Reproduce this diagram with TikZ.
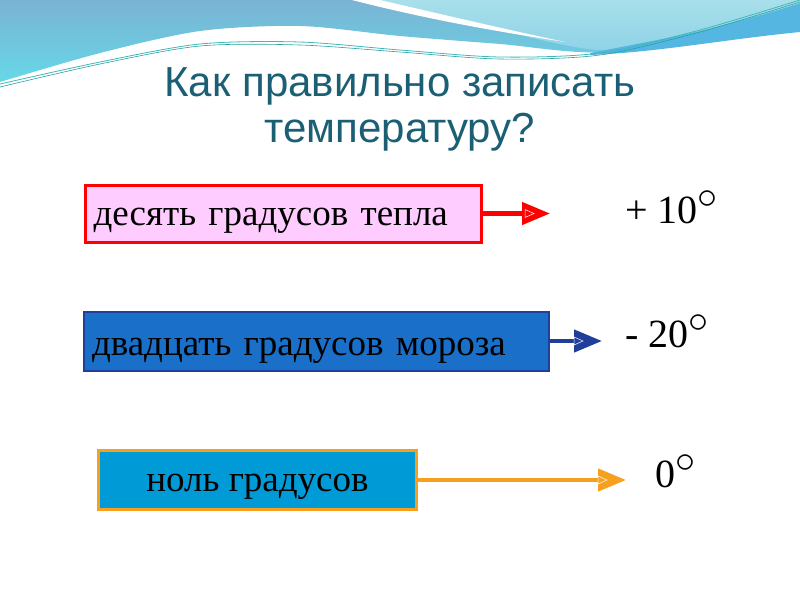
\documentclass[tikz,border=0pt]{standalone}
\usepackage{fix-cm}
\usepackage{fontspec}
\setmainfont{Liberation Serif}
\newfontfamily\titlefont{Liberation Sans}
\usepackage{xcolor}
\usetikzlibrary{arrows.meta,calc}

\definecolor{titleteal}{HTML}{1B5F75}
\definecolor{wavetop}{HTML}{7AB3D3}
\definecolor{wavelow}{HTML}{66D8E8}
\definecolor{wavelight}{HTML}{A8DFEA}
\definecolor{wavemid}{HTML}{56B6E2}
\definecolor{waveline}{HTML}{3EB8B8}
\definecolor{warmfill}{HTML}{FFCCFF}
\definecolor{coldfill}{HTML}{1A6FC8}
\definecolor{colddraw}{HTML}{1F3F9A}
\definecolor{zerofill}{HTML}{009BD6}
\definecolor{zerodraw}{HTML}{F7A020}

\tikzset{
  tempbox/.style={line width=3pt, minimum height=57pt, inner xsep=8pt, anchor=west,
    font=\fontsize{37}{40}\selectfont},
  tempval/.style={anchor=base west, inner sep=0pt, font=\fontsize{40}{44}\selectfont},
  temparrow/.style={line width=4.5pt, -{Triangle[length=28pt,width=22pt]}},
}
\newcommand{\tempdeg}{$^{\textstyle\circ}$}

\begin{document}
\begin{tikzpicture}[x=1pt, y=-1pt]
        \useasboundingbox (0,0) rectangle (800,600);

        % Waves
        \shade[top color=wavetop, bottom color=wavelow] (0,0) -- (800,0) -- (800,5)
            -- plot[smooth] coordinates {(800,5) (700,30) (600,52) (500,44) (400,36) (300,26) (200,31) (100,53) (0,82)} -- cycle;
        \shade[top color=wavelight, bottom color=wavelight!70!wavemid] (375,0)
            -- plot[smooth] coordinates {(375,0) (480,25) (600,50) (700,32) (800,3)} -- (800,0) -- cycle;
        \fill[white] (352,0) .. controls (430,20) and (500,32) .. (565,42)
            .. controls (500,28) and (440,14) .. (380,0) -- cycle;
        \fill[wavemid] plot[smooth] coordinates {(590,53) (700,31) (800,4)} -- (800,32)
            .. controls (720,40) and (660,52) .. (590,55) -- cycle;
        \draw[waveline, line width=0.8pt] plot[smooth] coordinates {(0,84) (100,62) (200,44) (300,42) (400,50) (500,57) (600,53) (700,30) (800,0)};
        \draw[waveline!60!teal, line width=0.6pt] plot[smooth] coordinates {(0,87) (100,64) (200,46) (300,45) (400,52) (500,59) (600,55) (700,32) (800,2)};

        % Title
        \node[font=\titlefont\fontsize{42}{46}\selectfont, text=titleteal, align=center] (title) at (400,109)
            {Как правильно записать\\температуру?};

        % Warm
        \node[tempbox, draw=red, fill=warmfill, text width=380pt, align=left, text height=25pt, text depth=2pt] (warm) at (84,213.5) {десять градусов тепла};
        \coordinate (warmtip) at (550,213.5);
        \draw[temparrow, red] (warm.east) -- (warmtip);
        \draw[white, line width=0.5pt] ($(warmtip)+(-25,-4)$) -- ($(warmtip)+(-25,4)$) -- ($(warmtip)+(-16,0)$) -- cycle;
        \node[tempval] (warmval) at (625,223) {+ 10\tempdeg};

        % Cold
        \node[tempbox, draw=colddraw, fill=coldfill, line width=2pt, minimum height=59pt, text width=449pt, align=left, text height=29pt, text depth=0pt] (cold) at (83,341) {двадцать градусов мороза};
        \coordinate (coldtip) at (602,341);
        \draw[temparrow, colddraw] (cold.east) -- (coldtip);
        \draw[white, line width=0.5pt] ($(coldtip)+(-28,-4)$) -- ($(coldtip)+(-28,4)$) -- ($(coldtip)+(-19,0)$) -- cycle;
        \node[tempval] (coldval) at (625,347) {- 20\tempdeg};

        % Zero
        \node[tempbox, draw=zerodraw, fill=zerofill, minimum width=318pt, minimum height=59pt, text height=25pt, text depth=2pt] (zero) at (97,480) {ноль градусов};
        \coordinate (zerotip) at (626,480);
        \draw[temparrow, zerodraw] (zero.east) -- (zerotip);
        \draw[white, line width=0.5pt] ($(zerotip)+(-28,-4)$) -- ($(zerotip)+(-28,4)$) -- ($(zerotip)+(-19,0)$) -- cycle;
        \node[tempval] (zeroval) at (655,487) {0\tempdeg};
    \end{tikzpicture}
\end{document}
